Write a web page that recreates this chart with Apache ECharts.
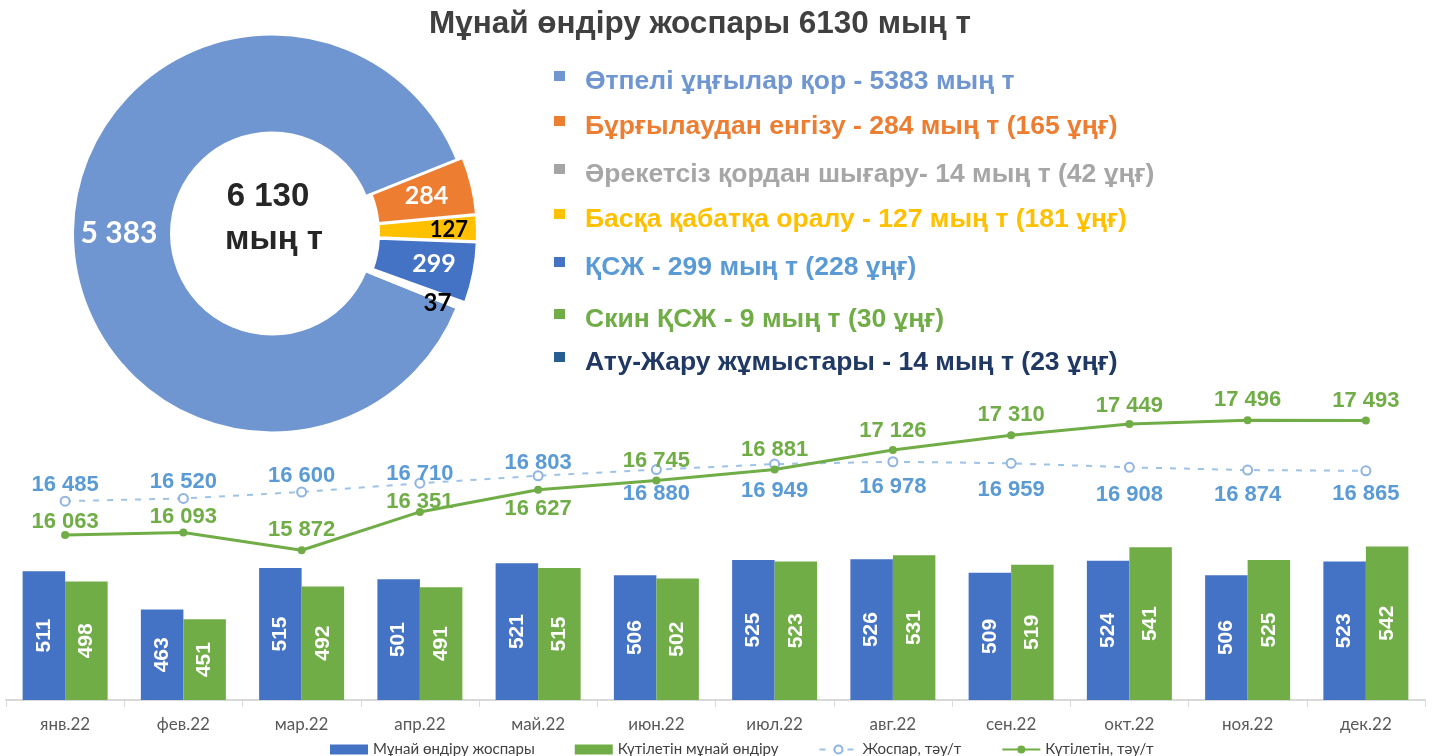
<!DOCTYPE html>
<html>
<head>
<meta charset="utf-8">
<script src="https://cdn.jsdelivr.net/npm/echarts@6/dist/echarts.min.js"></script>
<style>
html,body{margin:0;padding:0;background:#fff;}
#c{width:1441px;height:756px;}
</style>
</head>
<body>
<div id="c"></div>
<script>
// ---- data ----
const titleText = 'Мұнай өндіру жоспары 6130 мың т';
const pieTotalLabel = ['6 130', 'мың т'];
const pieNames = ['Өтпелі ұңғылар қор', 'Бұрғылаудан енгізу', 'Басқа қабатқа оралу', 'ҚСЖ', 'Басқалары'];
const pieValues = [5383, 284, 127, 299, 37];
const listTexts = [
  'Өтпелі ұңғылар қор - 5383 мың т',
  'Бұрғылаудан енгізу - 284 мың т (165 ұңғ)',
  'Әрекетсіз қордан шығару- 14 мың т (42 ұңғ)',
  'Басқа қабатқа оралу - 127 мың т (181 ұңғ)',
  'ҚСЖ - 299 мың т (228 ұңғ)',
  'Скин ҚСЖ - 9 мың т (30 ұңғ)',
  'Ату-Жару жұмыстары - 14 мың т (23 ұңғ)'
];
const months = ['янв.22','фев.22','мар.22','апр.22','май.22','июн.22','июл.22','авг.22','сен.22','окт.22','ноя.22','дек.22'];
const planProd = [511, 463, 515, 501, 521, 506, 525, 526, 509, 524, 506, 523];
const expProd  = [498, 451, 492, 491, 515, 502, 523, 531, 519, 541, 525, 542];
const planDaily = [16485, 16520, 16600, 16710, 16803, 16880, 16949, 16978, 16959, 16908, 16874, 16865];
const expDaily  = [16063, 16093, 15872, 16351, 16627, 16745, 16881, 17126, 17310, 17449, 17496, 17493];
const seriesNames = ['Мұнай өндіру жоспары', 'Күтілетін мұнай өндіру', 'Жоспар, тәу/т', 'Күтілетін, тәу/т'];

// ---- styling / label placement ----
const pieColors = ['#7096D1', '#ED7D31', '#FFC000', '#4472C4', '#FFFFFF'];
const listMarkColors = ['#7096D1', '#ED7D31', '#A5A5A5', '#FFC000', '#4472C4', '#70AD47', '#255E91'];
const listTextColors = ['#7096D1', '#ED7D31', '#A6A6A6', '#FFC000', '#5B9BD5', '#70AD47', '#1F3864'];
const listRowY = [82, 127, 175, 220, 268, 320, 363];
const planLabelPos = ['top','top','top','top','top','bottom','bottom','bottom','bottom','bottom','bottom','bottom'];
const planLabelDist = [0, 0, 0, -7, -4, 8, 10, 9, 10, 11, 8, 7];
const expLabelPos  = ['top','top','top','top','bottom','top','top','top','top','top','top','top'];
const expLabelDist = [-2, 1, 5, -5, 4, 4, 5, 4, 5, 3, 5, 5];
const pieLabelStyles = [
  {color:'#fff', fontSize:30, padding:[8,0,0,0]},
  {color:'#fff', fontSize:25},
  {color:'#000', fontSize:22, padding:[0,0,0,36]},
  {color:'#fff', fontSize:25, padding:[0,0,0,12]},
  {formatter: p => '{v|' + fmt(p.value) + '}',
   rich: {v: {color:'#000', fontSize:24, fontWeight:'bold', fontFamily:'Lato', padding:[26,0,0,34]}}}
];

function fmt(v) { return String(v).replace(/\B(?=(\d{3})+(?!\d))/g, ' '); }

const chart = echarts.init(document.getElementById('c'), null, {renderer:'canvas'});

const graphics = [];
pieTotalLabel.forEach((t, i) => {
  graphics.push({type:'text', x: i === 0 ? 268 : 274, y: i === 0 ? 197 : 240,
    style:{text:t, fill:'#262626', font:'bold 33px "Liberation Sans", Arial', textAlign:'center', textVerticalAlign:'middle'}, z:10});
});
listTexts.forEach((t, i) => {
  graphics.push({type:'rect', shape:{x:554, y:listRowY[i]-11, width:11, height:10}, style:{fill:listMarkColors[i]}});
  graphics.push({type:'text', x:585, y:listRowY[i], style:{text:t, fill:listTextColors[i], font:'bold 26.5px "Liberation Sans", Arial', textVerticalAlign:'middle'}});
});

const lineLabel = color => ({show: true, color: color, fontSize: 22, fontWeight: 'bold', fontFamily: '"Liberation Sans", Arial', formatter: p => fmt(p.value)});

const option = {
  animation: false,
  title: {text: titleText, left: 695, top: 3, textAlign: 'center',
    textStyle: {fontSize: 31.5, fontWeight: 'bold', color: '#404040', fontFamily: '"Liberation Sans", Arial'}},
  graphic: graphics,
  legend: {
    left: 325, top: 737, itemWidth: 38, itemHeight: 10, itemGap: 40,
    textStyle: {fontSize: 15, color: '#404040', fontFamily: 'Lato'},
    data: [
      {name: seriesNames[0], icon: 'rect'},
      {name: seriesNames[1], icon: 'rect'},
      {name: seriesNames[2]},
      {name: seriesNames[3]}
    ]
  },
  grid: {left: 6, right: 16, top: 380, bottom: 56, containLabel: false},
  xAxis: {
    type: 'category', data: months,
    axisLine: {lineStyle: {color: '#D9D9D9', width: 2}},
    axisTick: {show: true, length: 7, lineStyle: {color: '#D9D9D9', width: 1}},
    axisLabel: {color: '#595959', fontSize: 17, fontFamily: 'Lato', margin: 16}
  },
  yAxis: [
    {type: 'value', min: 350, max: 750, interval: 50, show: false},
    {type: 'value', min: 14000, max: 18000, interval: 1000, show: false}
  ],
  series: [
    {
      type: 'pie', name: 'pie', center: [272, 233.5], radius: [101, 199],
      startAngle: -22, clockwise: true, selectedMode: 'multiple', selectedOffset: 6,
      avoidLabelOverlap: false, legendHoverLink: false,
      itemStyle: {borderColor: '#fff', borderWidth: 2},
      label: {show: true, position: 'inside', fontWeight: 'bold', fontFamily: 'Lato',
        formatter: p => fmt(p.value)},
      labelLine: {show: false},
      emphasis: {disabled: true},
      data: pieValues.map((v, i) => ({
        name: pieNames[i], value: v, selected: i > 0,
        itemStyle: {color: pieColors[i]},
        label: pieLabelStyles[i]
      }))
    },
    {
      type: 'bar', name: seriesNames[0], data: planProd, barWidth: 42.5, barGap: '0%',
      itemStyle: {color: '#4472C4'},
      label: {show: true, position: 'inside', rotate: 90, color: '#fff', fontSize: 21, fontWeight: 'bold', fontFamily: '"Liberation Sans", Arial'}
    },
    {
      type: 'bar', name: seriesNames[1], data: expProd, barWidth: 42.5, barGap: '0%',
      itemStyle: {color: '#70AD47'},
      label: {show: true, position: 'inside', rotate: 90, color: '#fff', fontSize: 21, fontWeight: 'bold', fontFamily: '"Liberation Sans", Arial'}
    },
    {
      type: 'line', name: seriesNames[2], yAxisIndex: 1,
      data: planDaily.map((v, i) => ({value: v, label: {position: planLabelPos[i], distance: planLabelDist[i]}})),
      symbol: 'emptyCircle', symbolSize: 9,
      lineStyle: {color: '#9DC3E6', width: 2, type: [6, 8]},
      itemStyle: {color: '#8FB4E3', borderWidth: 1.5},
      label: lineLabel('#5B9BD5'),
      z: 3
    },
    {
      type: 'line', name: seriesNames[3], yAxisIndex: 1,
      data: expDaily.map((v, i) => ({value: v, label: {position: expLabelPos[i], distance: expLabelDist[i]}})),
      symbol: 'circle', symbolSize: 8,
      lineStyle: {color: '#70AD47', width: 3},
      itemStyle: {color: '#70AD47'},
      label: lineLabel('#70AD47'),
      z: 4
    }
  ]
};
chart.setOption(option);
</script>
</body>
</html>
